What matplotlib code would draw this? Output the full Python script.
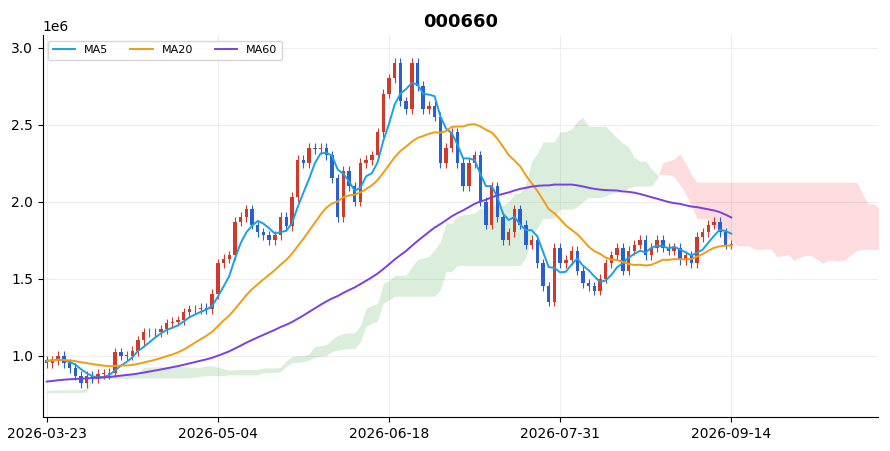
import numpy as np
import pandas as pd
import matplotlib
matplotlib.use("Agg")
import matplotlib.pyplot as plt

# 78 bars before the first shown date (needed for MA60 / Ichimoku), values in millions
pre_close = [0.74,0.73,0.72,0.74,0.75,0.73,0.72,0.74,0.76,0.75,0.74,0.73,0.75,0.76,0.77,0.76,0.75,0.74,
             0.73,0.72,0.73,0.74,0.75,0.74,0.73,0.72,0.73,0.74,0.75,0.76,0.75,0.74,0.76,0.77,0.78,0.77,
             0.76,0.75,0.76,0.77,0.78,0.79,0.78,0.77,0.76,0.77,0.78,0.79,0.80,0.79,0.78,0.77,0.78,0.79,
             0.80,0.79,0.78,0.79,0.80,0.81,0.96,0.97,0.98,0.97,0.96,0.97,0.98,0.99,0.98,0.97,0.96,0.97,
             0.98,0.97,0.96,0.97,0.98,0.97]
closes = [0.95,0.97,1.0,0.95,0.92,0.87,0.82,0.87,0.85,0.88,
          0.88,0.89,1.02,1.0,1.0,1.03,1.1,1.15,1.15,1.15,
          1.17,1.21,1.22,1.23,1.28,1.3,1.3,1.31,1.3,1.4,
          1.6,1.63,1.65,1.87,1.9,1.95,1.85,1.8,1.78,1.75,
          1.78,1.9,1.84,2.03,2.27,2.25,2.35,2.34,2.35,2.3,
          2.15,1.9,2.2,2.1,2.0,2.25,2.27,2.3,2.45,2.7,
          2.8,2.9,2.65,2.6,2.9,2.75,2.6,2.62,2.55,2.25,
          2.35,2.45,2.25,2.1,2.25,2.3,2.0,1.85,2.1,1.9,
          1.75,1.8,1.95,1.85,1.72,1.75,1.6,1.45,1.35,1.7,
          1.6,1.62,1.68,1.55,1.47,1.45,1.42,1.5,1.6,1.65,
          1.7,1.55,1.68,1.72,1.75,1.65,1.7,1.75,1.7,1.68,
          1.7,1.62,1.65,1.6,1.77,1.8,1.85,1.87,1.8,1.72,1.72]
wick = 0.03
tick_labels = ["2026-03-23", "2026-05-04", "2026-06-18", "2026-07-31", "2026-09-14"]
tick_pos = [0, 30, 60, 90, 120]
title = "000660"

allc = np.array(pre_close + closes) * 1e6
opens_all = np.r_[allc[0], allc[:-1]]
highs_all = np.maximum(allc, opens_all) + wick * 1e6
lows_all = np.minimum(allc, opens_all) - wick * 1e6
npre = len(pre_close)
n = len(closes)
x_all = np.arange(-npre, n)
s = pd.Series(allc)
ma = {k: s.rolling(k).mean().values for k in (5, 20, 60)}
H = pd.Series(highs_all); L = pd.Series(lows_all)
tenkan = (H.rolling(9).max() + L.rolling(9).min()) / 2
kijun = (H.rolling(26).max() + L.rolling(26).min()) / 2
spanA = ((tenkan + kijun) / 2).values
spanB = ((H.rolling(52).max() + L.rolling(52).min()) / 2).values
xs = x_all + 26
m = (xs >= 0)
xs, A, B = xs[m], spanA[m], spanB[m]

fig, ax = plt.subplots(figsize=(8.9, 4.51), dpi=100)
fig.subplots_adjust(left=0.048, right=0.987, top=0.922, bottom=0.075)
ax.fill_between(xs, A, B, where=A >= B, color="#2ca02c", alpha=0.17, lw=0, interpolate=True)
ax.fill_between(xs, A, B, where=A < B, color="#f03040", alpha=0.17, lw=0, interpolate=True)

sl = slice(npre, None)
x = np.arange(n)
o, c, h, l = opens_all[sl], allc[sl], highs_all[sl], lows_all[sl]
for i in range(n):
    col = "#d03a2a" if c[i] >= o[i] else "#2a5fd0"
    ax.vlines(x[i], l[i], h[i], color=col, lw=0.8)
    ax.bar(x[i], max(abs(c[i] - o[i]), 4000), bottom=min(o[i], c[i]), width=0.6, color=col)
ax.plot(x, ma[5][sl], color="#1aa0e8", lw=1.4, label="MA5")
ax.plot(x, ma[20][sl], color="#f39c12", lw=1.4, label="MA20")
ax.plot(x, ma[60][sl], color="#7b3fe4", lw=1.4, label="MA60")

ax.set_xticks(tick_pos)
ax.set_xticklabels(tick_labels)
ax.set_xlim(-0.7, 145.8)
ax.set_ylim(0.6e6, 3.08e6)
ax.grid(True, color="#eeeeee", lw=0.8)
ax.set_axisbelow(True)
ax.spines["top"].set_visible(False)
ax.spines["right"].set_visible(False)
ax.set_title(title, fontweight="bold", fontsize=13)
ax.legend(loc="upper left", ncol=3, fontsize=8)
fig.savefig("out.png")
